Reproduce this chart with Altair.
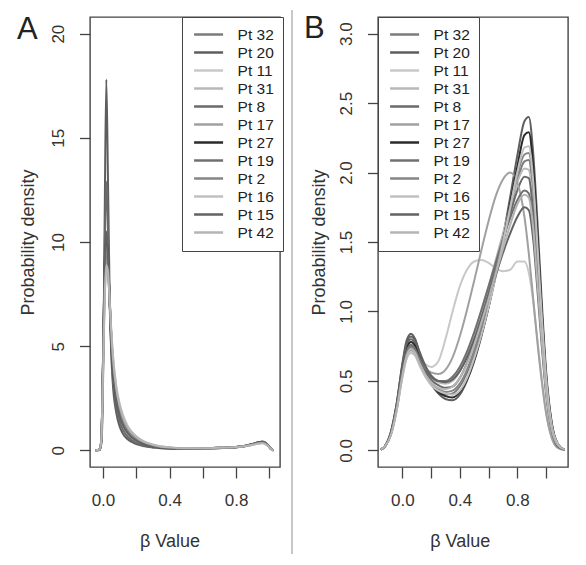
import altair as alt
import pandas as pd

patients = ["Pt 32", "Pt 20", "Pt 11", "Pt 31", "Pt 8", "Pt 17",
            "Pt 27", "Pt 19", "Pt 2", "Pt 16", "Pt 15", "Pt 42"]
colors = ["#7b7b7b", "#5e5e5e", "#c8c8c8", "#b8b8b8", "#6a6a6a", "#a0a0a0",
          "#2a2a2a", "#707070", "#858585", "#c0c0c0", "#626262", "#b5b5b5"]

# Panel A: beta value grid and densities
xs_a = [-0.045, -0.02, -0.01, 0.0, 0.01, 0.02, 0.03, 0.04, 0.05, 0.06, 0.08, 0.1,
        0.12, 0.15, 0.2, 0.25, 0.3, 0.4, 0.5, 0.6, 0.7, 0.8, 0.85, 0.9, 0.93,
        0.96, 0.99, 1.01, 1.025]
dens_a = {
    "Pt 32": [0, 0.05, 0.5, 4.0, 8.0, 9.5, 9.0, 7.4, 5.5, 4.2, 2.7, 1.9, 1.4, 0.95, 0.55, 0.33, 0.22, 0.12, 0.09, 0.1, 0.12, 0.16, 0.21, 0.29, 0.36, 0.38, 0.24, 0.07, 0],
    "Pt 20": [0, 0.02, 0.3, 3.0, 11.0, 17.8, 13.0, 7.5, 4.6, 3.1, 1.8, 1.15, 0.8, 0.52, 0.3, 0.19, 0.13, 0.08, 0.07, 0.08, 0.1, 0.14, 0.19, 0.28, 0.36, 0.40, 0.26, 0.07, 0],
    "Pt 11": [0, 0.05, 0.5, 3.6, 7.3, 8.8, 8.5, 7.2, 5.7, 4.5, 3.0, 2.2, 1.65, 1.12, 0.66, 0.4, 0.27, 0.14, 0.1, 0.1, 0.12, 0.16, 0.2, 0.27, 0.33, 0.35, 0.22, 0.06, 0],
    "Pt 31": [0, 0.05, 0.5, 3.8, 7.6, 9.0, 8.6, 7.1, 5.5, 4.3, 2.9, 2.1, 1.55, 1.05, 0.62, 0.38, 0.25, 0.13, 0.1, 0.1, 0.12, 0.16, 0.2, 0.28, 0.34, 0.36, 0.23, 0.06, 0],
    "Pt 8": [0, 0.03, 0.4, 3.5, 9.5, 12.9, 10.5, 7.0, 4.8, 3.4, 2.1, 1.4, 0.98, 0.64, 0.36, 0.22, 0.15, 0.09, 0.08, 0.09, 0.11, 0.15, 0.2, 0.3, 0.38, 0.42, 0.27, 0.08, 0],
    "Pt 17": [0, 0.05, 0.5, 3.9, 7.8, 9.2, 8.8, 7.2, 5.5, 4.2, 2.8, 2.0, 1.5, 1.0, 0.58, 0.35, 0.23, 0.12, 0.09, 0.1, 0.12, 0.16, 0.21, 0.29, 0.35, 0.37, 0.24, 0.07, 0],
    "Pt 27": [0, 0.04, 0.5, 4.2, 8.8, 10.2, 9.3, 7.2, 5.2, 3.9, 2.5, 1.75, 1.28, 0.86, 0.5, 0.3, 0.2, 0.11, 0.09, 0.1, 0.12, 0.16, 0.21, 0.3, 0.37, 0.4, 0.25, 0.07, 0],
    "Pt 19": [0, 0.04, 0.5, 4.1, 8.4, 9.8, 9.1, 7.3, 5.4, 4.1, 2.6, 1.85, 1.35, 0.9, 0.52, 0.31, 0.21, 0.11, 0.09, 0.1, 0.12, 0.16, 0.21, 0.3, 0.37, 0.39, 0.25, 0.07, 0],
    "Pt 2": [0, 0.05, 0.5, 4.0, 8.2, 9.6, 9.0, 7.3, 5.5, 4.2, 2.7, 1.9, 1.4, 0.93, 0.54, 0.32, 0.21, 0.12, 0.09, 0.1, 0.12, 0.16, 0.21, 0.29, 0.36, 0.38, 0.24, 0.07, 0],
    "Pt 16": [0, 0.05, 0.5, 3.5, 7.1, 8.6, 8.4, 7.2, 5.8, 4.6, 3.1, 2.25, 1.7, 1.15, 0.68, 0.42, 0.28, 0.14, 0.1, 0.1, 0.12, 0.15, 0.19, 0.26, 0.32, 0.34, 0.22, 0.06, 0],
    "Pt 15": [0, 0.04, 0.5, 4.3, 9.0, 10.5, 9.4, 7.2, 5.1, 3.8, 2.4, 1.65, 1.2, 0.8, 0.46, 0.28, 0.19, 0.1, 0.08, 0.09, 0.11, 0.15, 0.2, 0.3, 0.38, 0.41, 0.26, 0.07, 0],
    "Pt 42": [0, 0.05, 0.5, 3.7, 7.4, 8.9, 8.6, 7.2, 5.6, 4.4, 2.95, 2.15, 1.6, 1.08, 0.64, 0.39, 0.26, 0.13, 0.1, 0.1, 0.12, 0.16, 0.2, 0.27, 0.33, 0.35, 0.23, 0.06, 0],
}

# Panel B: beta value grid and densities
xs_b = [-0.15, -0.12, -0.08, -0.04, 0.0, 0.03, 0.06, 0.09, 0.12, 0.16, 0.2, 0.25,
        0.3, 0.35, 0.4, 0.45, 0.5, 0.55, 0.6, 0.65, 0.7, 0.75, 0.8, 0.85, 0.88,
        0.91, 0.94, 0.97, 1.0, 1.04, 1.08, 1.13]
dens_b = {
    "Pt 32": [0.005, 0.03, 0.12, 0.30, 0.56, 0.70, 0.75, 0.72, 0.64, 0.55, 0.48, 0.43, 0.40, 0.41, 0.46, 0.56, 0.70, 0.87, 1.06, 1.27, 1.49, 1.72, 1.94, 2.08, 2.09, 1.85, 1.40, 0.92, 0.50, 0.17, 0.04, 0.003],
    "Pt 20": [0.005, 0.03, 0.13, 0.33, 0.62, 0.79, 0.84, 0.80, 0.70, 0.58, 0.48, 0.41, 0.37, 0.36, 0.40, 0.50, 0.64, 0.82, 1.03, 1.27, 1.53, 1.82, 2.12, 2.37, 2.40, 2.15, 1.65, 1.08, 0.58, 0.20, 0.05, 0.003],
    "Pt 11": [0.005, 0.03, 0.11, 0.28, 0.52, 0.66, 0.70, 0.69, 0.65, 0.62, 0.60, 0.64, 0.80, 1.00, 1.18, 1.30, 1.36, 1.37, 1.35, 1.31, 1.29, 1.30, 1.36, 1.36, 1.28, 1.08, 0.80, 0.52, 0.28, 0.09, 0.02, 0.003],
    "Pt 31": [0.005, 0.03, 0.11, 0.29, 0.54, 0.68, 0.72, 0.70, 0.64, 0.57, 0.52, 0.49, 0.48, 0.50, 0.57, 0.68, 0.83, 1.00, 1.18, 1.37, 1.56, 1.75, 1.93, 2.03, 2.02, 1.78, 1.33, 0.87, 0.47, 0.16, 0.04, 0.003],
    "Pt 8": [0.005, 0.03, 0.12, 0.32, 0.60, 0.75, 0.80, 0.77, 0.69, 0.59, 0.51, 0.47, 0.45, 0.46, 0.52, 0.63, 0.78, 0.95, 1.13, 1.32, 1.51, 1.70, 1.87, 1.97, 1.96, 1.72, 1.30, 0.85, 0.46, 0.16, 0.04, 0.003],
    "Pt 17": [0.005, 0.03, 0.11, 0.29, 0.54, 0.68, 0.72, 0.70, 0.64, 0.59, 0.56, 0.55, 0.58, 0.67, 0.82, 1.01, 1.22, 1.44, 1.65, 1.83, 1.95, 2.00, 1.93, 1.68, 1.42, 1.10, 0.78, 0.50, 0.27, 0.09, 0.02, 0.003],
    "Pt 27": [0.005, 0.03, 0.12, 0.31, 0.58, 0.73, 0.78, 0.75, 0.66, 0.56, 0.48, 0.42, 0.39, 0.38, 0.42, 0.51, 0.65, 0.83, 1.03, 1.26, 1.50, 1.77, 2.04, 2.27, 2.29, 2.05, 1.56, 1.02, 0.55, 0.19, 0.05, 0.003],
    "Pt 19": [0.005, 0.03, 0.12, 0.30, 0.57, 0.71, 0.76, 0.73, 0.66, 0.58, 0.53, 0.50, 0.50, 0.53, 0.60, 0.71, 0.85, 1.01, 1.18, 1.35, 1.52, 1.67, 1.80, 1.87, 1.85, 1.63, 1.23, 0.81, 0.44, 0.15, 0.04, 0.003],
    "Pt 2": [0.005, 0.03, 0.11, 0.30, 0.55, 0.69, 0.74, 0.71, 0.63, 0.54, 0.48, 0.44, 0.42, 0.43, 0.48, 0.58, 0.72, 0.89, 1.08, 1.29, 1.51, 1.75, 1.98, 2.13, 2.14, 1.90, 1.43, 0.94, 0.51, 0.17, 0.04, 0.003],
    "Pt 16": [0.005, 0.03, 0.11, 0.28, 0.52, 0.66, 0.70, 0.68, 0.61, 0.53, 0.47, 0.43, 0.41, 0.40, 0.43, 0.52, 0.66, 0.83, 1.03, 1.25, 1.49, 1.74, 2.00, 2.18, 2.19, 1.95, 1.48, 0.97, 0.53, 0.18, 0.05, 0.003],
    "Pt 15": [0.005, 0.03, 0.13, 0.33, 0.61, 0.77, 0.82, 0.79, 0.71, 0.61, 0.54, 0.50, 0.49, 0.51, 0.57, 0.67, 0.80, 0.95, 1.10, 1.26, 1.42, 1.56, 1.68, 1.75, 1.73, 1.53, 1.16, 0.76, 0.41, 0.14, 0.03, 0.003],
    "Pt 42": [0.005, 0.03, 0.11, 0.29, 0.54, 0.68, 0.73, 0.70, 0.63, 0.55, 0.49, 0.45, 0.44, 0.46, 0.52, 0.62, 0.76, 0.92, 1.09, 1.27, 1.45, 1.62, 1.77, 1.84, 1.82, 1.61, 1.21, 0.80, 0.43, 0.15, 0.04, 0.003],
}

x_ticks = [0.0, 0.2, 0.4, 0.6, 0.8, 1.0]
y_ticks_a = [0, 5, 10, 15, 20]
y_ticks_b = [0.0, 0.5, 1.0, 1.5, 2.0, 2.5, 3.0]


def long_df(xs, dens):
    rows = []
    for i, p in enumerate(patients):
        for x, y in zip(xs, dens[p]):
            rows.append({"beta": x, "density": y, "patient": p, "ord": i})
    return pd.DataFrame(rows)


df_a = long_df(xs_a, dens_a)
df_b = long_df(xs_b, dens_b)

FONT = "Liberation Sans"
W, H = 190, 450
TXT = "#333333"
AX = "#444444"


def x_axis(title_x):
    return alt.Axis(values=x_ticks, title="β Value",
                    labelExpr="round(datum.value*10)%4==0 ? format(datum.value,'.1f') : ''",
                    domain=False, grid=False, tickSize=11, tickColor=AX, tickWidth=1.3,
                    labelFont=FONT, labelFontSize=17, labelColor=TXT, labelPadding=14,
                    labelBaseline="top", labelFlush=False, labelOverlap=False,
                    titleFont=FONT, titleFontSize=18, titleColor=TXT,
                    titleFontWeight="normal", titleX=title_x, titleY=65,
                    titleBaseline="top", titleAlign="center")


def y_axis(vals, fmt, title_x):
    return alt.Axis(values=vals, format=fmt, title="Probability density",
                    domain=False, grid=False, tickSize=10.5, tickColor=AX, tickWidth=1.3,
                    labelFont=FONT, labelFontSize=17, labelColor=TXT, labelAngle=270,
                    labelAlign="center", labelBaseline="alphabetic", labelPadding=16.5,
                    labelFlush=False, labelOverlap=False,
                    titleFont=FONT, titleFontSize=18, titleColor=TXT,
                    titleFontWeight="normal", titleX=title_x, titleY=H / 2,
                    titleAngle=270, titleAlign="center", titleBaseline="alphabetic")


def legend(lx):
    return alt.Legend(orient="none", legendX=lx, legendY=0, title=None,
                      symbolType="stroke", symbolSize=841, symbolStrokeWidth=2.5,
                      symbolOffset=2, labelOffset=13, clipHeight=17.9, rowPadding=0,
                      padding=8.6, strokeColor="#444444", fillColor="white",
                      labelFont=FONT, labelFontSize=15.5, labelColor="#222222",
                      labelLimit=200)


color_scale = alt.Scale(domain=patients, range=colors)

lines_a = alt.Chart(df_a).mark_line(strokeWidth=2, interpolate="monotone", clip=True).encode(
    x=alt.X("beta:Q", scale=alt.Scale(domain=[-0.078, 1.064], nice=False, zero=False),
            axis=x_axis((0.4 + 0.078) / 1.142 * W)),
    y=alt.Y("density:Q", scale=alt.Scale(domain=[-0.8, 20.8], nice=False, zero=False),
            axis=y_axis(y_ticks_a, "d", -57)),
    color=alt.Color("patient:N", scale=color_scale, legend=legend(W - 98)),
    order=alt.Order("ord:Q"),
)

letter_a = alt.Chart(pd.DataFrame({"t": ["A"]})).mark_text(
    font=FONT, fontSize=31, color="#222222", align="left", baseline="alphabetic"
).encode(text="t:N", x=alt.value(-73), y=alt.value(22))

panel_a = alt.layer(lines_a, letter_a).properties(width=W, height=H)

lines_b = alt.Chart(df_b).mark_line(strokeWidth=2, interpolate="monotone", clip=True).encode(
    x=alt.X("beta:Q", scale=alt.Scale(domain=[-0.169, 1.153], nice=False, zero=False),
            axis=x_axis((0.4 + 0.169) / 1.322 * W)),
    y=alt.Y("density:Q", scale=alt.Scale(domain=[-0.12, 3.12], nice=False, zero=False),
            axis=y_axis(y_ticks_b, ".1f", -54)),
    color=alt.Color("patient:N", scale=color_scale, legend=legend(0)),
    order=alt.Order("ord:Q"),
)

letter_b = alt.Chart(pd.DataFrame({"t": ["B"]})).mark_text(
    font=FONT, fontSize=31, color="#222222", align="left", baseline="alphabetic"
).encode(text="t:N", x=alt.value(-74), y=alt.value(21))

separator = alt.Chart(pd.DataFrame({"t": ["sep"]})).mark_rule(
    color="#c8c8c8", strokeWidth=2
).encode(x=alt.value(-86), y=alt.value(-7), y2=alt.value(537))

panel_b = alt.layer(lines_b, letter_b, separator).properties(width=W, height=H)

chart = alt.hconcat(panel_a, panel_b, spacing=5).resolve_scale(
    color="independent"
).resolve_legend(color="independent").properties(
    padding={"left": 8, "top": 0, "right": 0, "bottom": 0},
    background="white",
).configure_view(stroke="#444444", strokeWidth=1.4)

chart.save("out.html", embed_options={"renderer": "svg", "actions": False})
